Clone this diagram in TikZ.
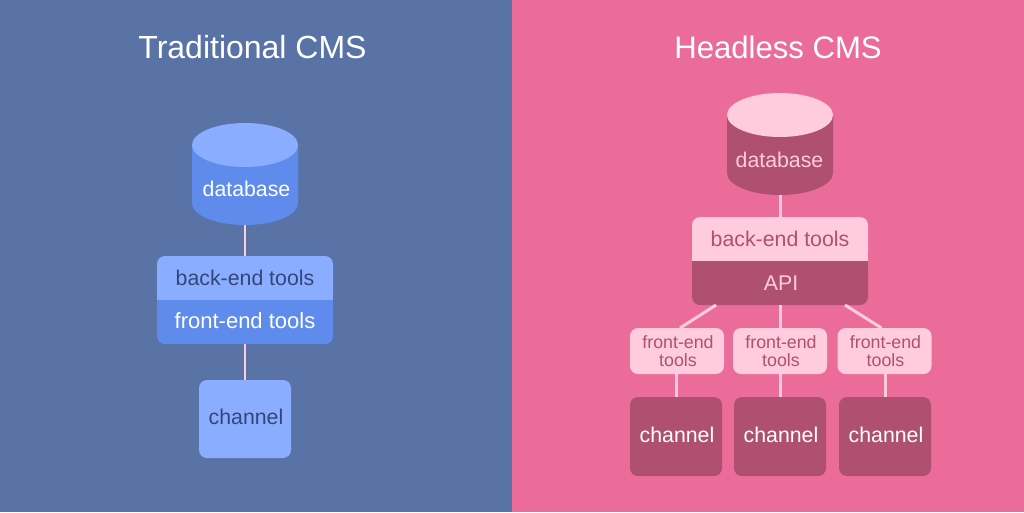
\documentclass[tikz,border=0pt]{standalone}
\usepackage{fontspec}
\setmainfont{Liberation Sans}
\usetikzlibrary{calc}
\definecolor{bgblue}{HTML}{5A73A6}
\definecolor{bgpink}{HTML}{EC6C99}
\definecolor{lblue}{HTML}{8AADFF}
\definecolor{mblue}{HTML}{5F8CEC}
\definecolor{dblue}{HTML}{33467A}
\definecolor{lpink}{HTML}{FFCCDD}
\definecolor{dpink}{HTML}{AF5070}
\tikzset{
  x=1pt,y=-1pt,
  title/.style={text=white,font=\fontsize{32}{38}\selectfont,inner sep=0pt},
  titleb/.style={text=white,font=\fontsize{31.1}{38}\selectfont,inner sep=0pt},
  lab/.style={font=\fontsize{21.3}{25}\selectfont,inner sep=0pt,align=center},
  small/.style={font=\fontsize{17.8}{18.5}\selectfont,inner sep=0pt,align=center,text=dpink},
  tile/.style={rounded corners=8pt,inner sep=0pt,outer sep=0pt},
  band/.style={inner sep=0pt,outer sep=0pt,lab,minimum width=176pt,minimum height=44pt},
  wire/.style={draw=lpink,line width=2.4pt},
  wirer/.style={draw=lpink,line width=3pt},
  chan/.style={tile,lab,text depth=4pt,minimum width=92pt},
}
\newcommand{\cyl}[6]{% cx, top cy, bottom cy, rx, body colour, lid colour
  \fill[#5] (#1-#4,#2) -- (#1-#4,#3) arc[start angle=180,end angle=360,x radius=#4,y radius=-22] -- (#1+#4,#2) -- cycle;
  \fill[#6] (#1,#2) ellipse[x radius=#4,y radius=22];
}
\begin{document}
\begin{tikzpicture}
\useasboundingbox (0,0) rectangle (1024,512);
\fill[bgblue] (0,0) rectangle (512,512);
\fill[bgpink] (512,0) rectangle (1024,512);
\node[title] (tl) at (252.5,47) {Traditional CMS};
\node[titleb] (tr) at (778,47) {Headless CMS};

\coordinate (dbLb) at (245,225);
\coordinate (dbRb) at (780,195);

% left database
\cyl{245}{145}{203}{53}{mblue}{lblue}
\node[lab,text=white] (dbL) at (246.5,189) {database};

% left stack
\fill[lblue,tile] (157,300) -- (157,256) -- (333,256) -- (333,300) -- cycle;
\fill[mblue,tile] (157,300) -- (157,344) -- (333,344) -- (333,300) -- cycle;
\fill[lblue] (157,292) rectangle (333,300);
\fill[mblue] (157,300) rectangle (333,308);
\node[band,text=dblue] (beL) at (245,278) {back-end tools};
\node[band,text=white,text depth=2pt,font=\fontsize{22}{25}\selectfont] (feL) at (245,322) {front-end tools};

% left channel
\node[chan,fill=lblue,text=dblue,minimum height=78pt] (chL) at (245,419) {\hspace*{2pt}channel};

\draw[wire] (dbLb) -- (beL.north);
\draw[wire] (feL.south) -- (chL.north);

% right database
\cyl{780}{115}{173}{53}{dpink}{lpink}
\node[lab,text=lpink] (dbR) at (779.5,160) {database};

% right stack
\fill[lpink,tile] (692,261) -- (692,217) -- (868,217) -- (868,261) -- cycle;
\fill[dpink,tile] (692,261) -- (692,305) -- (868,305) -- (868,261) -- cycle;
\fill[lpink] (692,253) rectangle (868,261);
\fill[dpink] (692,261) rectangle (868,269);
\node[band,text=dpink] (beR) at (780,239) {back-end tools};
\node[band,text=lpink] (api) at (780,283) {\hspace*{2pt}API};

% front-end tools
\node[tile,fill=lpink,minimum width=94pt,minimum height=46pt] (fe1) at (677,351) {};
\node[tile,fill=lpink,minimum width=94pt,minimum height=46pt] (fe2) at (780,351) {};
\node[tile,fill=lpink,minimum width=94pt,minimum height=46pt] (fe3) at (884.5,351) {};
\node[small] (ft1) at (678,351) {front-end\\tools};
\node[small] (ft2) at (781,351) {front-end\\tools};
\node[small] (ft3) at (885.5,351) {front-end\\tools};

% channels
\node[chan,fill=dpink,text=white,minimum height=79pt] (ch1) at (676,436.5) {\hspace*{2pt}channel};
\node[chan,fill=dpink,text=white,minimum height=79pt] (ch2) at (780,436.5) {\hspace*{2pt}channel};
\node[chan,fill=dpink,text=white,minimum height=79pt] (ch3) at (885,436.5) {\hspace*{2pt}channel};

\draw[wirer] (dbRb) -- (beR.north);
\draw[wirer] ($(api.south)+(-64,0)$) -- ($(fe1.north)+(3,0)$);
\draw[wirer] (api.south) -- (fe2.north);
\draw[wirer] ($(api.south)+(65,0)$) -- ($(fe3.north)+(-3,0)$);
\draw[wirer] (fe1.south-|ch1.north) -- (ch1.north);
\draw[wirer] (fe2.south) -- (ch2.north);
\draw[wirer] (fe3.south-|ch3.north) -- (ch3.north);
\end{tikzpicture}
\end{document}
